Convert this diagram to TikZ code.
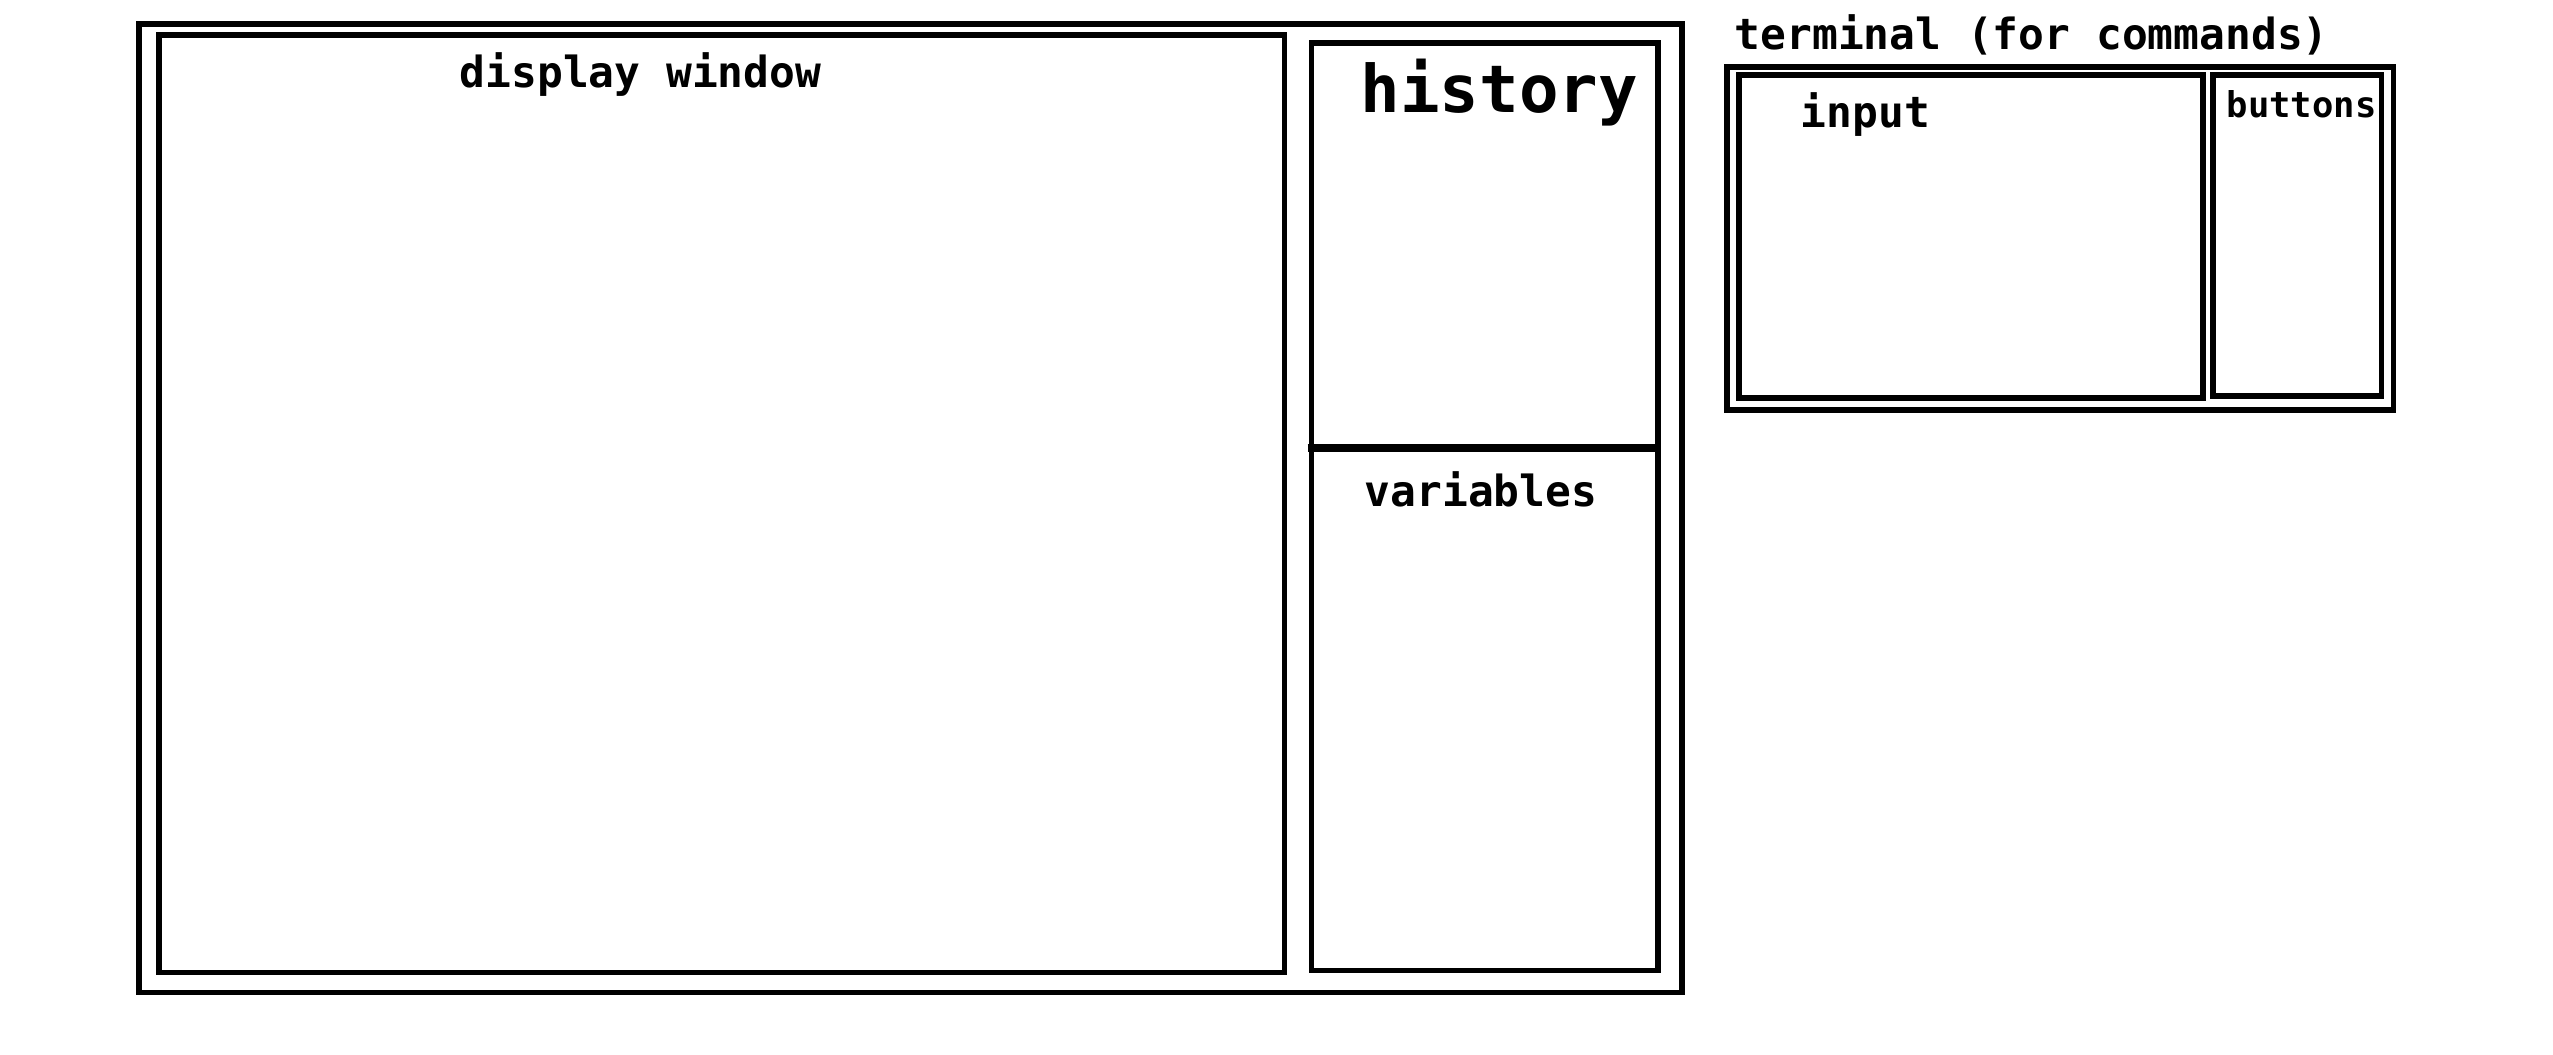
\documentclass[tikz,border=0pt]{standalone}
\usepackage{fontspec}
\setmonofont{DejaVu Sans Mono}
\usetikzlibrary{positioning,calc}
\tikzset{
  win/.style={draw=black, line width=1.6pt, fill=white, anchor=north west,
    inner sep=0pt, outer sep=0pt},
  split/.style={draw=black, line width=2.3pt},
  lbl/.style={font=\ttfamily\bfseries\fontsize{12.2}{14}\selectfont, anchor=base west, inner sep=0pt},
  biglbl/.style={lbl, font=\ttfamily\bfseries\fontsize{18.7}{22}\selectfont},
  smalllbl/.style={lbl, font=\ttfamily\bfseries\fontsize{10.1}{12}\selectfont}
}
\begin{document}
\begin{tikzpicture}[x=0.01cm, y=-0.01cm]
  \useasboundingbox (0,0) rectangle (2553,1055);
  % main window
  \node[win, minimum width=15.42cm, minimum height=9.68cm] (main) at (139,24){};
  \node[win, minimum width=11.25cm, minimum height=9.37cm] (disp) at ($(main.north west)+(20,11)$){};
  \node[win, minimum width=3.46cm, minimum height=4.05cm] (hist) at ($(disp.north east)+(27,8)$){};
  \node[win, minimum width=3.46cm, minimum height=5.22cm] (vars) at (hist.south west){};
  \draw[split] ($(hist.south west)+(-4,0)$) -- (hist.south east);
  % terminal
  \node[win, minimum width=6.66cm, minimum height=3.43cm] (term) at (1727,67){};
  \node[win, minimum width=4.64cm, minimum height=3.23cm] (inp) at ($(term.north west)+(12,8)$){};
  \node[win, minimum width=1.68cm, minimum height=3.21cm] (btns) at ($(inp.north east)+(10,0)$){};
  % labels
  \node[lbl] (dispT) at (459,88) {display window};
  \node[biglbl] (histT) at (1360,113) {history};
  \node[lbl] (varsT) at (1364,507) {variables};
  \node[lbl] (termT) at (1734,50) {terminal (for commands)};
  \node[lbl] (inpT) at (1800,128) {input};
  \node[smalllbl] (btnsT) at (2226,118) {buttons};
\end{tikzpicture}
\end{document}
